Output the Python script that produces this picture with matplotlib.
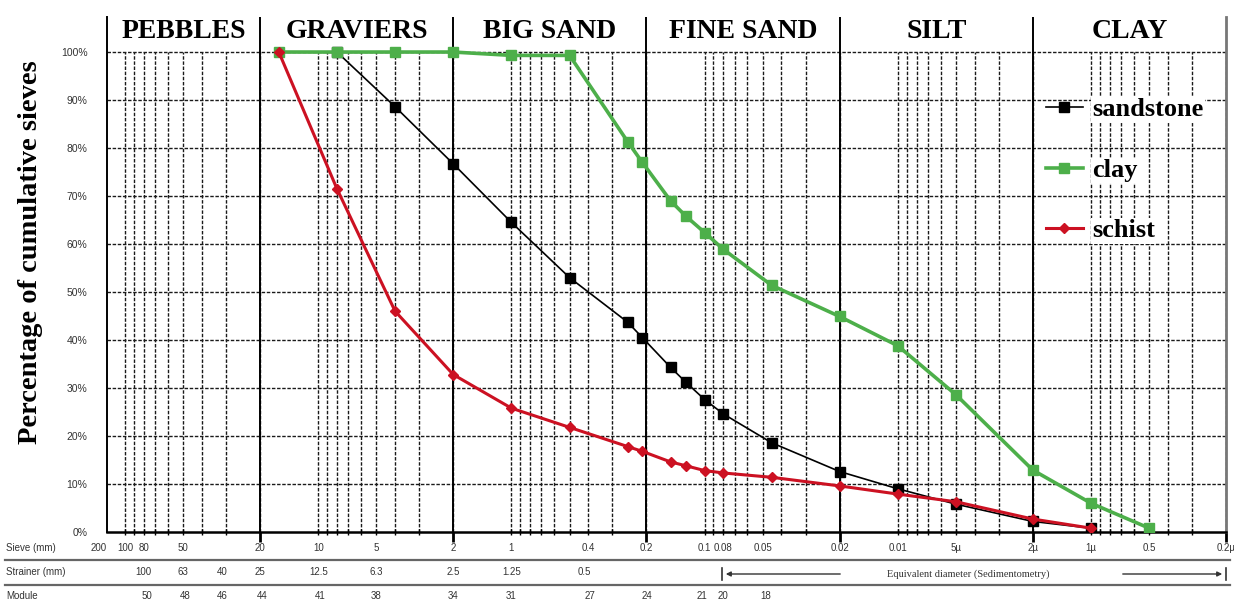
import numpy as np
import matplotlib
matplotlib.use("Agg")
import matplotlib.pyplot as plt
from matplotlib.lines import Line2D
from matplotlib import transforms

# ---------------- data ----------------
sandstone_x = [8, 4, 2, 1, 0.5, 0.25, 0.21, 0.15, 0.125, 0.1, 0.08, 0.045, 0.02, 0.01, 0.005, 0.002, 0.001]
sandstone_y = [100, 88.6, 76.7, 64.5, 53.0, 43.7, 40.5, 34.3, 31.2, 27.6, 24.6, 18.6, 12.6, 9.0, 5.8, 2.2, 0.8]

clay_x = [16, 8, 4, 2, 1, 0.5, 0.25, 0.21, 0.15, 0.125, 0.1, 0.08, 0.045, 0.02, 0.01, 0.005, 0.002, 0.001, 0.0005]
clay_y = [100, 100, 100, 100, 99.3, 99.3, 81.3, 77.0, 69.0, 65.8, 62.4, 58.9, 51.4, 44.9, 38.8, 28.6, 12.9, 6.0, 0.8]

schist_x = [16, 8, 4, 2, 1, 0.5, 0.25, 0.21, 0.15, 0.125, 0.1, 0.08, 0.045, 0.02, 0.01, 0.005, 0.002, 0.001]
schist_y = [100, 71.5, 46.0, 32.8, 25.8, 21.8, 17.8, 16.8, 14.6, 13.8, 12.8, 12.3, 11.4, 9.6, 7.9, 6.3, 2.7, 0.8]

sections = ["PEBBLES", "GRAVIERS", "BIG SAND", "FINE SAND", "SILT", "CLAY"]
section_bounds = [124, 20, 2, 0.2, 0.02, 0.002, 0.0002]

sieve_ticks = [100, 80, 50, 20, 10, 5, 2, 1, 0.4, 0.2, 0.1, 0.08, 0.05, 0.02, 0.01, 0.005, 0.002, 0.001, 0.0005, 0.0002]
sieve_labels = ["100", "80", "50", "20", "10", "5", "2", "1", "0.4", "0.2", "0.1", "0.08", "0.05",
                "0.02", "0.01", "5\u00b5", "2\u00b5", "1\u00b5", "0.5", "0.2\u00b5"]
strainer_pos = [80, 50, 31.5, 20, 10, 5, 2, 1, 0.42]
strainer_labels = ["100", "63", "40", "25", "12.5", "6.3", "2.5", "1.25", "0.5"]
module_pos = [77, 49, 31.5, 19.5, 9.8, 5, 2, 1, 0.39, 0.2, 0.103, 0.08, 0.048]
module_labels = ["50", "48", "46", "44", "41", "38", "34", "31", "27", "24", "21", "20", "18"]
y_ticks = [0, 10, 20, 30, 40, 50, 60, 70, 80, 90, 100]

SERIF = "Liberation Serif"
SANS = "Liberation Sans"

W, H = 1234, 599
fig = plt.figure(figsize=(W / 100, H / 100), dpi=100)
ax = fig.add_axes([107 / W, 1 - 532 / H, (1226 - 107) / W, (532 - 17) / H])
ax.set_xscale("log")
ax.set_xlim(124, 0.0002)
ax.set_ylim(0, 107.3)

# grid (dashed), drawn only up to 100 %
grid_x = []
for k in range(-4, 3):
    for m in range(1, 10):
        v = m * 10.0 ** k
        if 0.0002 <= v <= 124:
            grid_x.append(v)
gls = (0, (2.5, 1.2))
ax.vlines(grid_x, 0, 100, colors="#1a1a1a", linestyles=[gls], linewidth=1.0, zorder=1)
ax.hlines(y_ticks[1:], 124, 0.0002, colors="#1a1a1a", linestyles=[gls], linewidth=1.0, zorder=1)

# section separators
for b in section_bounds[1:-1]:
    ax.axvline(b, color="black", lw=1.4, zorder=2)

# headers
for name, a, b in zip(sections, section_bounds[:-1], section_bounds[1:]):
    ax.text(np.sqrt(a * b), 104.2, name, ha="center", va="center",
            family=SERIF, fontweight="bold", fontsize=20, zorder=3)

# series
l1, = ax.plot(sandstone_x, sandstone_y, color="black", lw=1.2, marker="s", ms=7,
              label="sandstone", zorder=4)
l2, = ax.plot(clay_x, clay_y, color="#4daf4a", lw=2.6, marker="s", ms=7.5,
              label="clay", zorder=5)
l3, = ax.plot(schist_x, schist_y, color="#cc1122", lw=2.2, marker="D", ms=5.5,
              label="schist", zorder=6)

# spines
ax.spines["top"].set_visible(False)
ax.spines["left"].set_color("black")
ax.spines["left"].set_linewidth(1.4)
ax.spines["right"].set_color("#777777")
ax.spines["right"].set_linewidth(2.0)
ax.spines["bottom"].set_color("black")
ax.spines["bottom"].set_linewidth(1.8)

# x ticks: major at 2*10^k, minor at every grid line
ax.xaxis.set_major_locator(matplotlib.ticker.FixedLocator([20, 2, 0.2, 0.02, 0.002, 0.0002]))
ax.xaxis.set_minor_locator(matplotlib.ticker.FixedLocator(grid_x))
ax.xaxis.set_major_formatter(matplotlib.ticker.NullFormatter())
ax.xaxis.set_minor_formatter(matplotlib.ticker.NullFormatter())
ax.tick_params(axis="x", which="major", length=7, width=2, direction="out")
ax.tick_params(axis="x", which="minor", length=4, width=1, direction="inout")

# y ticks
ax.set_yticks(y_ticks)
ax.set_yticklabels([f"{v}%" for v in y_ticks], family=SANS, fontsize=7.5, color="#333333")
ax.tick_params(axis="y", length=0, pad=14)

# y label
fig.text(31 / W, 1 - 252 / H, "Percentage of cumulative sieves", rotation=90,
         ha="center", va="center", family=SERIF, fontweight="bold", fontsize=20.5)

# bottom rows
trans = transforms.blended_transform_factory(ax.transData, fig.transFigure)
small = dict(family=SANS, fontsize=7, color="#333333", ha="center", va="center")
for v, lab in zip(sieve_ticks, sieve_labels):
    ax.text(v, 1 - 548 / H, lab, transform=trans, clip_on=False, **small)
fig.text(99 / W, 1 - 548 / H, "200", **small)
for v, lab in zip(strainer_pos, strainer_labels):
    ax.text(v, 1 - 572 / H, lab, transform=trans, clip_on=False, **small)
for v, lab in zip(module_pos, module_labels):
    ax.text(v, 1 - 596 / H, lab, transform=trans, clip_on=False, **small)

left_small = dict(family=SANS, fontsize=7, color="#333333", ha="left", va="center")
fig.text(6 / W, 1 - 548 / H, "Sieve (mm)", **left_small)
fig.text(6 / W, 1 - 572 / H, "Strainer (mm)", **left_small)
fig.text(6 / W, 1 - 596 / H, "Module", **left_small)

for yy in [560, 585]:
    fig.add_artist(Line2D([5 / W, 1230 / W], [1 - yy / H, 1 - yy / H],
                          color="#666666", lw=1.6, transform=fig.transFigure))

# sedimentometry arrows
ya = 1 - 574 / H
fig.add_artist(Line2D([722 / W, 722 / W], [ya - 6 / H, ya + 6 / H], color="#333333", lw=1.2))
fig.add_artist(Line2D([1226 / W, 1226 / W], [ya - 6 / H, ya + 6 / H], color="#333333", lw=1.2))
fig.patches.append(matplotlib.patches.FancyArrowPatch(
    (843 / W, ya), (723 / W, ya), transform=fig.transFigure, arrowstyle="-|>",
    mutation_scale=7, color="#333333", lw=1.0))
fig.patches.append(matplotlib.patches.FancyArrowPatch(
    (1120 / W, ya), (1225 / W, ya), transform=fig.transFigure, arrowstyle="-|>",
    mutation_scale=7, color="#333333", lw=1.0))
fig.text(968 / W, ya, "Equivalent diameter (Sedimentometry)", ha="center", va="center",
         family=SERIF, fontsize=7.5, color="#333333")

# legend
leg = ax.legend(handles=[l1, l2, l3], loc="upper left",
                bbox_to_anchor=(1046 / W, 1 - 98 / H), bbox_transform=fig.transFigure,
                frameon=False, borderpad=0, borderaxespad=0, handlelength=1.4,
                handletextpad=0.35, labelspacing=1.4,
                prop=dict(family=SERIF, weight="bold", size=19))
for t in leg.get_texts():
    t.set_bbox(dict(facecolor="white", edgecolor="none", pad=1))
leg.set_zorder(10)

fig.savefig("out.png", dpi=100)
